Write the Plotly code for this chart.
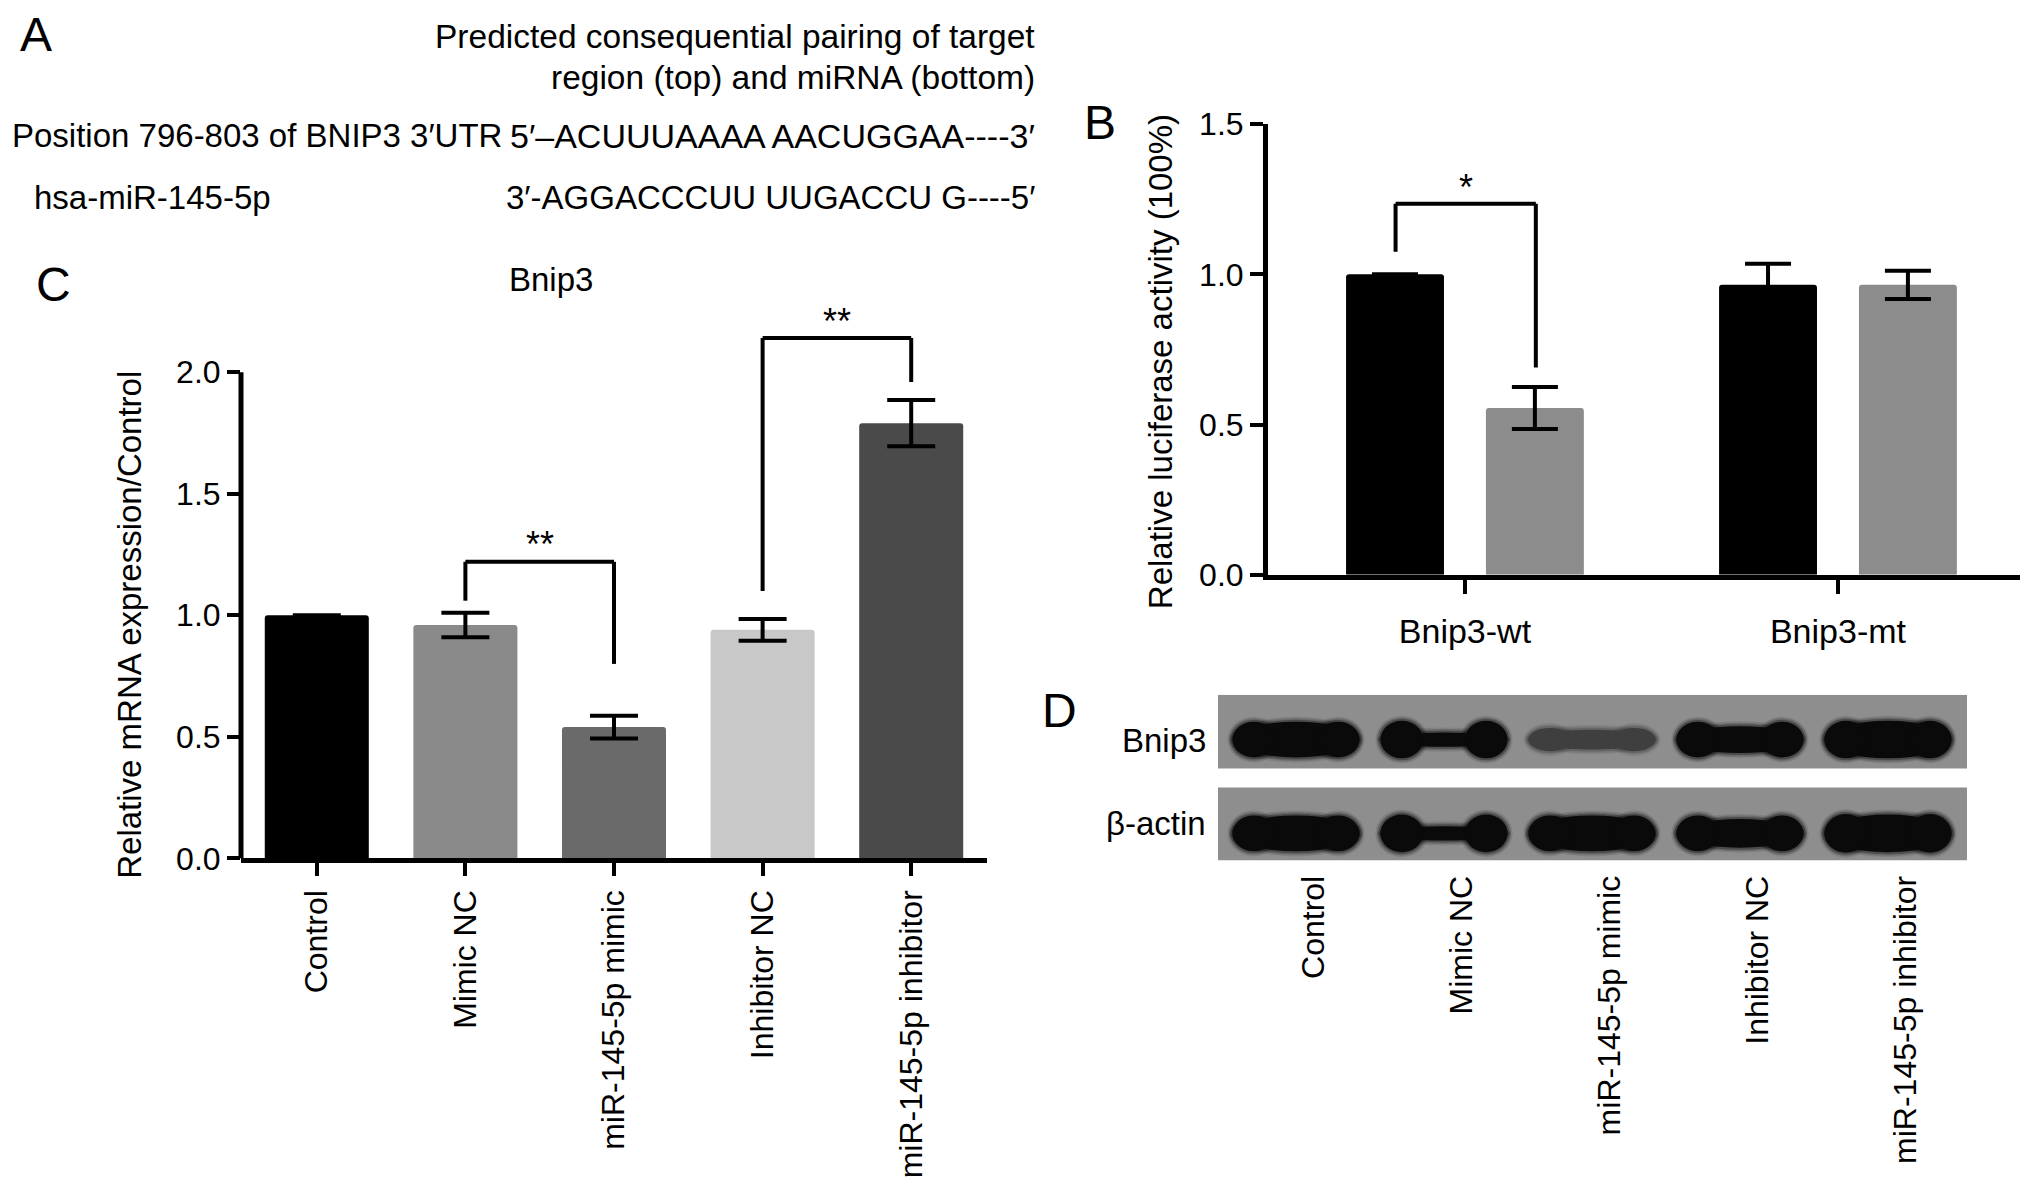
import plotly.graph_objects as go

W, H = 2032, 1196
OFF = 8                      # default page margin around the figure
FW, FH = W - 2 * OFF, H - 2 * OFF
SY, OY = 0.971, 25.3         # measured vertical mapping of the rendered page
FONT = "Liberation Sans, Arial, Helvetica, sans-serif"

# ---------------- data ----------------
# Panel C: relative mRNA expression
categories = ["Control", "Mimic NC", "miR-145-5p mimic", "Inhibitor NC", "miR-145-5p inhibitor"]
expr_values = [1.0, 0.96, 0.54, 0.94, 1.79]
expr_errors = [0.0, 0.05, 0.047, 0.045, 0.095]
expr_colors = ["#000000", "#8a8a8a", "#6a6a6a", "#c8c8c8", "#4a4a4a"]
c_ticks = [0.0, 0.5, 1.0, 1.5, 2.0]
c_tick_text = ["0.0", "0.5", "1.0", "1.5", "2.0"]
# significance brackets: (left idx, right idx, top y, left leg end, right leg end, label)
c_brackets = [(1, 2, 1.22, 1.06, 0.80, "**"), (3, 4, 2.14, 1.10, 1.96, "**")]

# Panel B: luciferase activity
luc_groups = ["Bnip3-wt", "Bnip3-mt"]
luc_black = [1.0, 0.965]
luc_black_err = [0.0, 0.07]
luc_gray = [0.555, 0.965]
luc_gray_err = [0.07, 0.047]
b_ticks = [0.0, 0.5, 1.0, 1.5]
b_tick_text = ["0.0", "0.5", "1.0", "1.5"]
b_brackets = [(-0.186, 0.19, 1.235, 1.075, 0.69, "*")]

# Panel D: western blot band appearance (relative thickness / darkness)
blot_rows = ["Bnip3", "β-actin"]
bnip3_core = [1.0, 0.40, 0.55, 0.75, 1.05]
bnip3_ends = [1.0, 1.05, 0.65, 1.0, 1.05]
bnip3_dark = [1.0, 1.0, 0.6, 1.0, 1.0]
actin_core = [1.0, 0.40, 1.0, 0.80, 1.05]
actin_ends = [1.0, 1.05, 1.0, 1.0, 1.08]
actin_dark = [1.0, 1.0, 1.0, 1.0, 1.0]


def px(x):
    return (x - OFF) / FW


def py(y):
    fy = (y - OY) / SY
    return 1 - fy / FH


fig = go.Figure()

# ---- Panel C bars ----
fig.add_trace(go.Bar(
    x=categories, y=expr_values, width=0.7,
    marker=dict(color=expr_colors, line=dict(width=0), cornerradius=3),
    error_y=dict(type="data", array=expr_errors, visible=True, thickness=4, width=24, color="black"),
    xaxis="x", yaxis="y", showlegend=False,
))

# ---- Panel B bars ----
fig.add_trace(go.Bar(
    x=luc_groups, y=luc_black, name="black",
    marker=dict(color="#000000", line=dict(width=0), cornerradius=3),
    error_y=dict(type="data", array=luc_black_err, visible=True, thickness=4, width=23, color="black"),
    xaxis="x2", yaxis="y2", showlegend=False,
))
fig.add_trace(go.Bar(
    x=luc_groups, y=luc_gray, name="gray",
    marker=dict(color="#8c8c8c", line=dict(width=0), cornerradius=3),
    error_y=dict(type="data", array=luc_gray_err, visible=True, thickness=4, width=23, color="black"),
    xaxis="x2", yaxis="y2", showlegend=False,
))

shapes = []
annotations = []

# C y-axis line (stops at 2.0)
shapes.append(dict(type="line", xref="x domain", yref="y", x0=0, x1=0, y0=0, y1=2.0,
                   line=dict(color="black", width=5)))


def add_brackets(brs, xr, yr, star_dy):
    for (a, b, top, yl, yrr, lab) in brs:
        for (x0, y0, x1, y1) in [(a, yl, a, top), (a, top, b, top), (b, top, b, yrr)]:
            shapes.append(dict(type="line", xref=xr, yref=yr, x0=x0, x1=x1, y0=y0, y1=y1,
                               line=dict(color="black", width=4)))
        annotations.append(dict(x=(a + b) / 2, y=top + star_dy, xref=xr, yref=yr, text=lab,
                                showarrow=False, font=dict(family=FONT, size=36, color="black"),
                                yanchor="middle"))


add_brackets(c_brackets, "x", "y", 0.07)
add_brackets(b_brackets, "x2", "y2", 0.055)

# ---- Panel D western blot ----
strip_color = "#8e8e8e"
ROW_Y = [0.729, 0.163]
STRIPS = [(0.554, 1.0), (0.0, 0.44)]
for (y0, y1) in STRIPS:
    shapes.append(dict(type="rect", xref="x3", yref="y3", x0=-0.527, x1=4.534, y0=y0, y1=y1,
                       fillcolor=strip_color, line=dict(width=0), layer="above"))

LX = 1 / 148.0  # lane units per pixel
LY = 1 / 166.0  # y units per pixel
HALF_H = 0.108


def band_color(dark):
    base = 0x8e
    v = int(round(base - (base - 0x0a) * dark))
    return f"#{v:02x}{v:02x}{v:02x}"


def add_band(lane, yc, core, ends, dark):
    col = band_color(dark)
    parts = [(0.0, 0.42, HALF_H * core), (-0.285, 0.145, HALF_H * ends), (0.285, 0.145, HALF_H * ends)]
    for (exp, op) in [(5, 0.10), (3.5, 0.18), (2, 0.32), (0, 1.0)]:
        for (dx, hw, hh) in parts:
            shapes.append(dict(type="circle", xref="x3", yref="y3",
                               x0=lane + dx - hw - exp * LX, x1=lane + dx + hw + exp * LX,
                               y0=yc - hh - exp * LY, y1=yc + hh + exp * LY,
                               fillcolor=col, opacity=op, line=dict(width=0), layer="above"))


for i in range(len(categories)):
    add_band(i, ROW_Y[0], bnip3_core[i], bnip3_ends[i], bnip3_dark[i])
    add_band(i, ROW_Y[1], actin_core[i], actin_ends[i], actin_dark[i])


# ---- text annotations ----
def txt(x, y, s, size=33, xanchor="left", yanchor="middle", angle=0):
    annotations.append(dict(x=px(x), y=py(y), xref="paper", yref="paper", text=s, showarrow=False,
                            xanchor=xanchor, yanchor=yanchor, textangle=angle,
                            font=dict(family=FONT, size=size, color="black")))


# Panel letters
txt(18, 34, "A", 48)
txt(1082, 122, "B", 48)
txt(34, 284, "C", 48)
txt(1040, 711, "D", 48)

# Panel A
txt(1037, 36, "Predicted consequential pairing of target", 33.5, xanchor="right")
txt(1037, 77, "region (top) and miRNA (bottom)", 33.5, xanchor="right")
txt(10, 135, "Position 796-803 of BNIP3 3′UTR", 33)
txt(1037, 135, "5′–ACUUUAAAA AACUGGAA----3′", 34, xanchor="right")
txt(32, 197, "hsa-miR-145-5p", 33)
txt(1037, 197, "3′-AGGACCCUU UUGACCU G----5′", 33, xanchor="right")

# Axis titles
txt(1160, 362, "Relative luciferase activity (100%)", 33, xanchor="center", angle=-90)
txt(130, 625, "Relative mRNA expression/Control", 33, xanchor="center", angle=-90)
txt(551, 279, "Bnip3", 33, xanchor="center")

# Blot row labels
txt(1208, 741, blot_rows[0], 33, xanchor="right")
txt(1208, 824, blot_rows[1], 33, xanchor="right")

axis_common = dict(showgrid=False, zeroline=False, linecolor="black", tickcolor="black")
tick_y = dict(family=FONT, size=32, color="black")
tick_x = dict(family=FONT, size=32, color="black")

fig.update_layout(
    width=FW, height=FH,
    margin=dict(l=0, r=0, t=0, b=0),
    paper_bgcolor="white", plot_bgcolor="white",
    barmode="group", bargap=0.25, bargroupgap=0.30,
    font=dict(family=FONT, color="black"),
    xaxis=dict(domain=[px(241), px(987)], anchor="y", range=[-0.51, 4.51], showline=True, linewidth=5,
               ticks="outside", ticklen=13, tickwidth=4, tickangle=-90, ticklabelstandoff=1,
               tickfont=tick_x, **axis_common),
    yaxis=dict(domain=[py(859), py(274.6)], anchor="x", range=[0, 2.4], showline=False,
               tickmode="array", tickvals=c_ticks, ticktext=c_tick_text,
               ticks="outside", ticklen=13, tickwidth=4, tickfont=tick_y, **axis_common),
    xaxis2=dict(domain=[px(1268), px(2020)], anchor="y2", range=[-0.528, 1.488], showline=True, linewidth=5,
                ticks="outside", ticklen=14, tickwidth=4, ticklabelstandoff=8,
                tickfont=dict(family=FONT, size=34, color="black"), **axis_common),
    yaxis2=dict(domain=[py(575), py(123.5)], anchor="x2", range=[0, 1.5], showline=True, linewidth=5,
                tickmode="array", tickvals=b_ticks, ticktext=b_tick_text,
                ticks="outside", ticklen=13, tickwidth=4, tickfont=tick_y, **axis_common),
    xaxis3=dict(domain=[px(1218), px(1967)], anchor="y3", range=[-0.527, 4.534], showline=False,
                tickmode="array", tickvals=[i + 0.12 for i in range(len(categories))], ticktext=categories,
                ticks="", tickangle=-90, ticklabelstandoff=8, tickfont=tick_x, **axis_common),
    yaxis3=dict(domain=[py(861), py(695)], anchor="x3", range=[0, 1], visible=False),
    shapes=shapes,
    annotations=annotations,
)

fig.write_html("out.html")
